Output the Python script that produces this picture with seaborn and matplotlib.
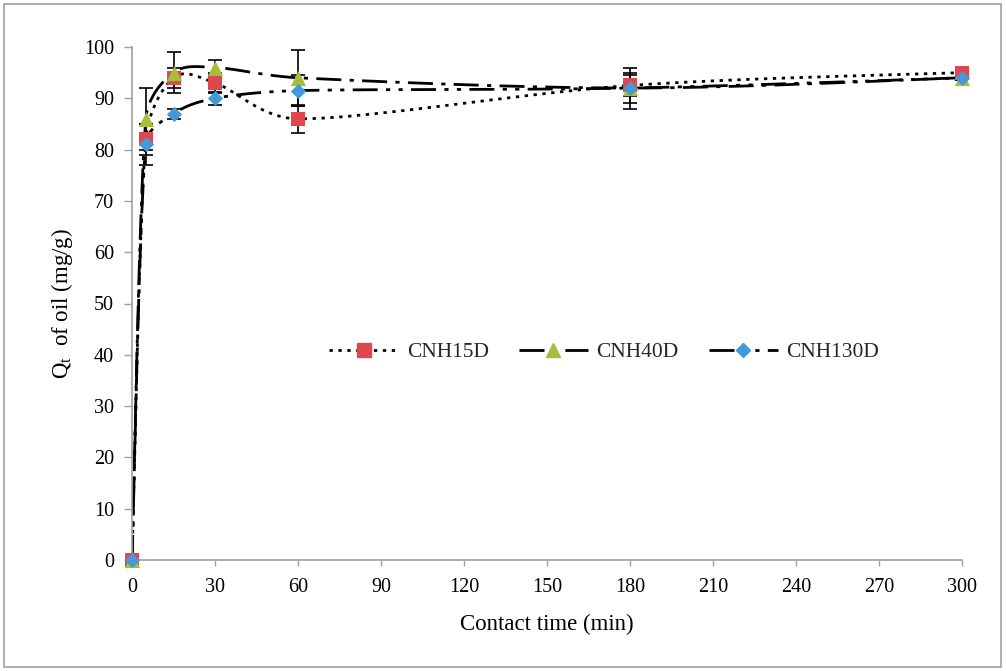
import numpy as np
import matplotlib
matplotlib.use("Agg")
import matplotlib.pyplot as plt
import seaborn as sns
import pandas as pd
from matplotlib.lines import Line2D
from matplotlib.patches import Rectangle

# ---- data ----
time_min = [0, 5, 15, 30, 60, 180, 300]
cnh15d = [0, 82, 94, 93, 86, 92.5, 95]
cnh40d = [0, 86, 95, 96, 94, 92, 94]
cnh130d = [0, 81, 87, 90, 91.5, 92, 94]
err15 = [0, 3, 2, 2, 2.7, 2, 0.5]
err40 = [0, 6, 4, 1.5, 5.5, 4, 0.5]
err130 = [0, 4, 1, 1.3, 3, 3, 0.5]
series_names = ["CNH15D", "CNH40D", "CNH130D"]
x_ticks = [0, 30, 60, 90, 120, 150, 180, 210, 240, 270, 300]
y_ticks = [0, 10, 20, 30, 40, 50, 60, 70, 80, 90, 100]

sns.set_theme(style="white")
plt.rcParams['font.family'] = ['Liberation Serif', 'DejaVu Serif']
plt.rcParams['mathtext.fontset'] = 'custom'
plt.rcParams['mathtext.rm'] = 'Liberation Serif'
plt.rcParams['mathtext.it'] = 'Liberation Serif'

fig = plt.figure(figsize=(10.06, 6.71), dpi=100)
ax = fig.add_axes([132/1006, 1-560/671, (962-132)/1006, (560-47)/671])
fig.add_artist(Rectangle((4/1006, 4/671), 997/1006, 663/671, transform=fig.transFigure,
                         fill=False, edgecolor="#a0a0a0", linewidth=1.2))

colors = ["#E0474C", "#A8BD3A", "#4698D6"]
markers = ["s", "^", "D"]
msizes = [110, 120, 60]
dashes = [(1.2, 2.0), (9, 3, 1.5, 3), (9, 3, 1.5, 3, 1.5, 3)]
ys = [cnh15d, cnh40d, cnh130d]
errs = [err15, err40, err130]

sx, sy = 830/300, 513/100


def smooth(x, y, n=40):
    P = np.column_stack([np.array(x, float)*sx, np.array(y, float)*sy])
    out = []
    m = len(P)
    for i in range(m-1):
        p0 = P[max(i-1, 0)]
        p1 = P[i]
        p2 = P[i+1]
        p3 = P[min(i+2, m-1)]
        seg = np.linalg.norm(p2-p1)
        v1 = (p2-p0)/6
        v2 = (p3-p1)/6
        lim = 0.4*seg
        if np.linalg.norm(v1) > lim:
            v1 = v1*lim/np.linalg.norm(v1)
        if np.linalg.norm(v2) > lim:
            v2 = v2*lim/np.linalg.norm(v2)
        c1 = p1 + v1
        c2 = p2 - v2
        t = np.linspace(0, 1, n)[:, None]
        b = (1-t)**3*p1 + 3*(1-t)**2*t*c1 + 3*(1-t)*t**2*c2 + t**3*p2
        out.append(b if i == 0 else b[1:])
    B = np.vstack(out)
    return B[:, 0]/sx, B[:, 1]/sy


for name, y, e, c, mk, ms, d in zip(series_names, ys, errs, colors, markers, msizes, dashes):
    xs, yv = smooth(time_min, y)
    ln, = ax.plot(xs, yv, color="black", linewidth=2.0, zorder=2)
    ln.set_dashes(d)
    ax.errorbar(time_min, y, yerr=e, fmt="none", ecolor="black", elinewidth=1.2,
                capsize=5, capthick=1.2, zorder=3)
    df = pd.DataFrame({"t": time_min, "q": y})
    sns.scatterplot(data=df, x="t", y="q", ax=ax, marker=mk, s=ms, color=c,
                    edgecolor=c, linewidth=0, zorder=4, legend=False, clip_on=False)

ax.set_xlim(0, 300)
ax.set_ylim(0, 100)
ax.set_xticks(x_ticks)
ax.set_yticks(y_ticks)
ax.tick_params(axis="y", labelsize=14.5, colors="black", direction="out",
               length=6, width=1, color="#a0a0a0", left=True, pad=7)
ax.tick_params(axis="x", labelsize=14.5, colors="black", direction="out",
               length=4, width=1, color="#a0a0a0", bottom=True, pad=9)
for s in ["top", "right"]:
    ax.spines[s].set_visible(False)
for s in ["left", "bottom"]:
    ax.spines[s].set_color("#a0a0a0")
    ax.spines[s].set_linewidth(1.2)
ax.set_xlabel("Contact time (min)", fontsize=16.5, color="black", labelpad=12)
ax.set_ylabel(r"Q$_{\mathrm{t}}$  of oil (mg/g)", fontsize=16.5, color="black", labelpad=6)
ax.grid(False)

handles = []
for c, mk, d, ms in zip(colors, markers, dashes, [10, 10, 7]):
    h = Line2D([0], [0], color="black", linewidth=2.0, marker=mk, markersize=ms,
               markerfacecolor=c, markeredgecolor=c, dashes=d)
    handles.append(h)
ax.legend(handles, series_names, loc="center", bbox_to_anchor=(0.569, 0.405),
          ncol=3, frameon=False, fontsize=15.5, handlelength=3.2, columnspacing=1.4,
          handletextpad=0.4)

fig.savefig("out.png", dpi=100)
